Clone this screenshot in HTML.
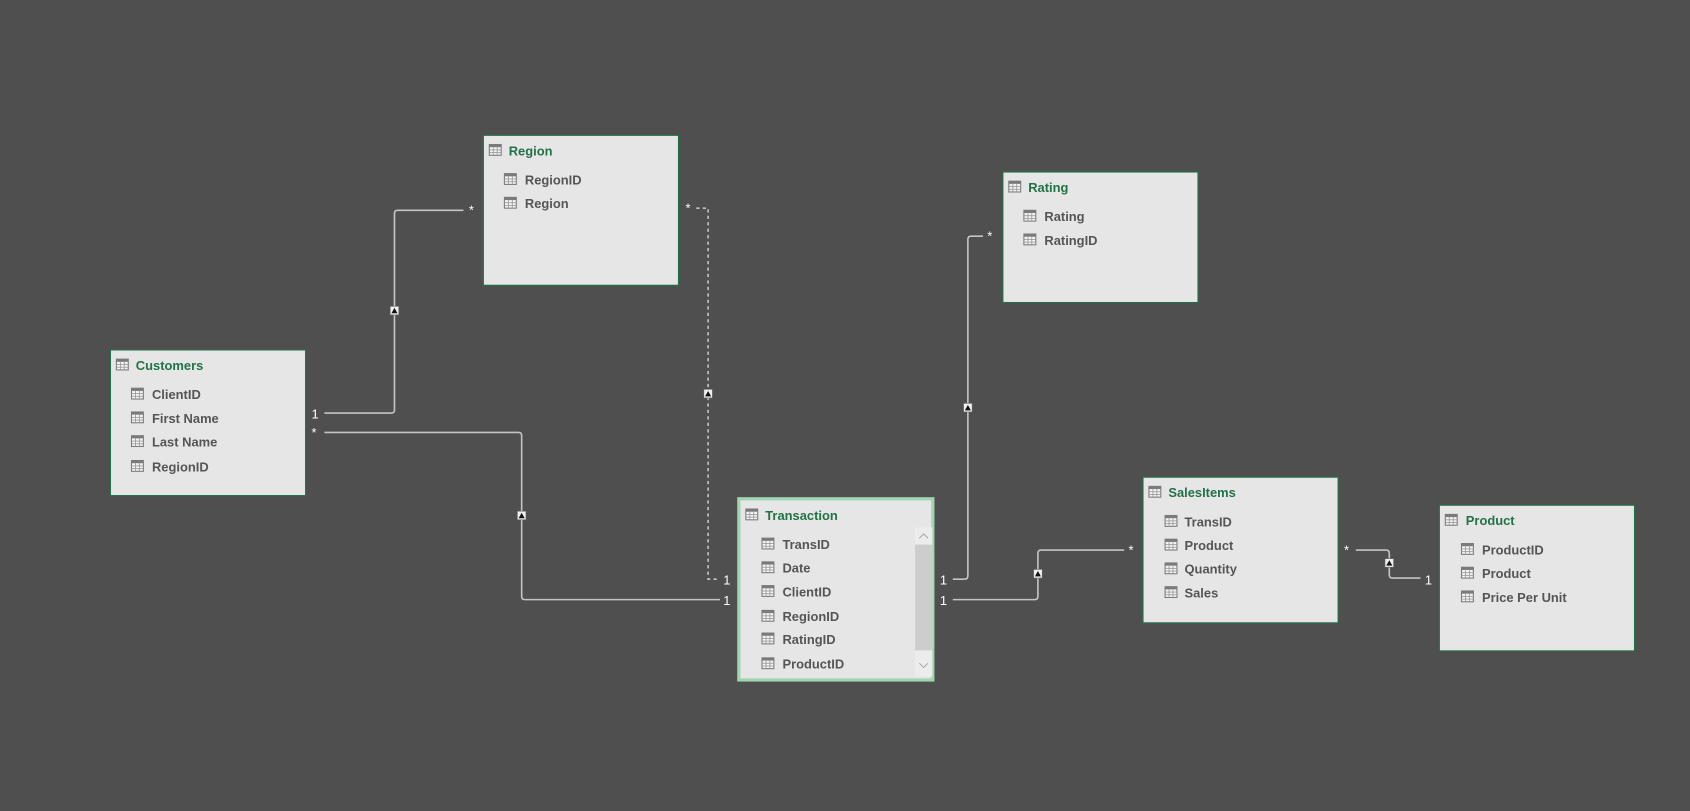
<!DOCTYPE html>
<html><head><style>
html,body{margin:0;padding:0;background:#4f4f4f;}
svg{display:block;}
text{font-family:"Liberation Sans",sans-serif;font-weight:bold;}
.t{fill:#217346;font-size:12px;}
.f{fill:#555;font-size:12px;}
.c{fill:#fff;font-size:12px;font-weight:normal;}
.ln{fill:none;stroke:#c4c4c4;stroke-width:1.5;}
</style></head><body>
<svg width="1690" height="811" viewBox="0 0 1568 752" preserveAspectRatio="none">
<defs>
<g id="ic"><rect x="0" y="0" width="11" height="10" fill="#f4f4f4" stroke="#7a7a7a" stroke-width="1"/><rect x="0" y="0" width="11" height="2.5" fill="#7a7a7a"/><line x1="0" y1="5" x2="11" y2="5" stroke="#9a9a9a" stroke-width="0.8"/><line x1="0" y1="7.5" x2="11" y2="7.5" stroke="#9a9a9a" stroke-width="0.8"/><line x1="3.7" y1="2" x2="3.7" y2="10" stroke="#9a9a9a" stroke-width="0.8"/><line x1="7.3" y1="2" x2="7.3" y2="10" stroke="#9a9a9a" stroke-width="0.8"/></g>
<g id="mk"><rect x="-4" y="-4" width="8" height="8" fill="#f0f0f0" stroke="#666" stroke-width="0.6"/><polygon points="0,-2.5 2.8,2.5 -2.8,2.5" fill="#111"/></g>
</defs>
<rect width="1568" height="752" fill="#4f4f4f"/>

<path class="ln" d="M301,383 H363 Q366,383 366,380 V198 Q366,195 369,195 H430"/>
<path class="ln" d="M301,401 H481 Q484,401 484,404 V553 Q484,556 487,556 H668"/>
<path class="ln" d="M646,193 H657 V537 H668" stroke-dasharray="3,3"/>
<path class="ln" d="M884,537 H895 Q898,537 898,534 V222 Q898,219 901,219 H912"/>
<path class="ln" d="M884,556 H960 Q963,556 963,553 V513 Q963,510 966,510 H1043"/>
<path class="ln" d="M1258,510 H1286 Q1289,510 1289,513 V533 Q1289,536 1292,536 H1318"/>
<use href="#mk" x="366" y="288"/>
<use href="#mk" x="484" y="478"/>
<use href="#mk" x="657" y="365"/>
<use href="#mk" x="898" y="378"/>
<use href="#mk" x="963" y="532"/>
<use href="#mk" x="1289" y="522"/>
<text class="c" x="289" y="388">1</text>
<text class="c" x="289" y="405">*</text>
<text class="c" x="435" y="199">*</text>
<text class="c" x="636" y="197">*</text>
<text class="c" x="671" y="542">1</text>
<text class="c" x="671" y="561">1</text>
<text class="c" x="872" y="542">1</text>
<text class="c" x="872" y="561">1</text>
<text class="c" x="916" y="223">*</text>
<text class="c" x="1047" y="514">*</text>
<text class="c" x="1247" y="514">*</text>
<text class="c" x="1322" y="542">1</text>

<rect x="102.5" y="324.5" width="181" height="135" fill="#e6e6e6" stroke="#217346" stroke-width="1"/>
<use href="#ic" x="108" y="333"/><text class="t" x="126" y="343">Customers</text>
<use href="#ic" x="122" y="360"/><text class="f" x="141" y="370">ClientID</text>
<use href="#ic" x="122" y="382"/><text class="f" x="141" y="392">First Name</text>
<use href="#ic" x="122" y="404"/><text class="f" x="141" y="414">Last Name</text>
<use href="#ic" x="122" y="427"/><text class="f" x="141" y="437">RegionID</text>

<rect x="448.5" y="125.5" width="181" height="139" fill="#e6e6e6" stroke="#217346" stroke-width="1"/>
<use href="#ic" x="454" y="134"/><text class="t" x="472" y="144">Region</text>
<use href="#ic" x="468" y="161"/><text class="f" x="487" y="171">RegionID</text>
<use href="#ic" x="468" y="183"/><text class="f" x="487" y="193">Region</text>

<rect x="930.5" y="159.5" width="181" height="121" fill="#e6e6e6" stroke="#217346" stroke-width="1"/>
<use href="#ic" x="936" y="168"/><text class="t" x="954" y="178">Rating</text>
<use href="#ic" x="950" y="195"/><text class="f" x="969" y="205">Rating</text>
<use href="#ic" x="950" y="217"/><text class="f" x="969" y="227">RatingID</text>

<rect x="685.5" y="462.5" width="180" height="168" fill="#e6e6e6" stroke="#9fd5b0" stroke-width="3"/>
<rect x="849" y="489" width="16" height="138" fill="#ececec"/>
<rect x="849" y="505" width="16" height="98" fill="#cdcdcd"/>
<path d="M853,499 L857,495 L861,499" fill="none" stroke="#999" stroke-width="0.8"/>
<path d="M853,615 L857,619 L861,615" fill="none" stroke="#999" stroke-width="0.8"/>
<use href="#ic" x="692" y="472"/><text class="t" x="710" y="482">Transaction</text>
<use href="#ic" x="707" y="499"/><text class="f" x="726" y="509">TransID</text>
<use href="#ic" x="707" y="521"/><text class="f" x="726" y="531">Date</text>
<use href="#ic" x="707" y="543"/><text class="f" x="726" y="553">ClientID</text>
<use href="#ic" x="707" y="566"/><text class="f" x="726" y="576">RegionID</text>
<use href="#ic" x="707" y="587"/><text class="f" x="726" y="597">RatingID</text>
<use href="#ic" x="707" y="610"/><text class="f" x="726" y="620">ProductID</text>

<rect x="1060.5" y="442.5" width="181" height="135" fill="#e6e6e6" stroke="#217346" stroke-width="1"/>
<use href="#ic" x="1066" y="451"/><text class="t" x="1084" y="461">SalesItems</text>
<use href="#ic" x="1081" y="478"/><text class="f" x="1099" y="488">TransID</text>
<use href="#ic" x="1081" y="500"/><text class="f" x="1099" y="510">Product</text>
<use href="#ic" x="1081" y="522"/><text class="f" x="1099" y="532">Quantity</text>
<use href="#ic" x="1081" y="544"/><text class="f" x="1099" y="554">Sales</text>

<rect x="1335.5" y="468.5" width="181" height="135" fill="#e6e6e6" stroke="#217346" stroke-width="1"/>
<use href="#ic" x="1341" y="477"/><text class="t" x="1360" y="487">Product</text>
<use href="#ic" x="1356" y="504"/><text class="f" x="1375" y="514">ProductID</text>
<use href="#ic" x="1356" y="526"/><text class="f" x="1375" y="536">Product</text>
<use href="#ic" x="1356" y="548"/><text class="f" x="1375" y="558">Price Per Unit</text>
</svg>
</body></html>
